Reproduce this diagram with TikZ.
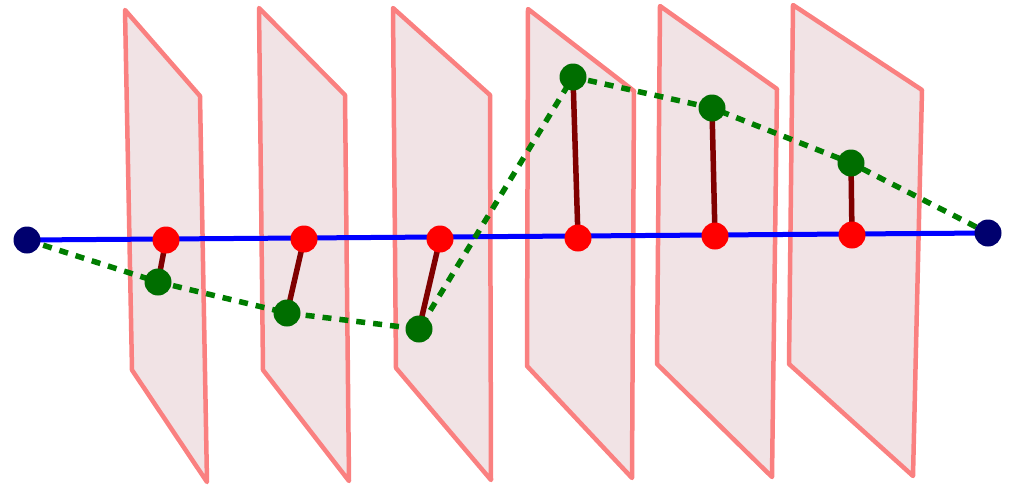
\documentclass[tikz,border=0pt]{standalone}
\begin{document}
\begin{tikzpicture}[x=1pt,y=-1pt,
  plane/.style={draw={rgb,255:red,250;green,128;blue,128},fill={rgb,255:red,241;green,227;blue,229},line width=4.5pt,line join=round},
  dotnode/.style={circle,inner sep=0pt,minimum size=27pt},
  reddot/.style={dotnode,fill={rgb,255:red,255;green,0;blue,0}},
  greendot/.style={dotnode,fill={rgb,255:red,0;green,110;blue,0}},
  enddot/.style={dotnode,fill={rgb,255:red,0;green,0;blue,110}},
  axis/.style={draw={rgb,255:red,0;green,0;blue,255},line width=5pt},
  path/.style={draw={rgb,255:red,0;green,125;blue,0},line width=5.5pt,dash pattern=on 9pt off 8pt},
  link/.style={draw={rgb,255:red,128;green,0;blue,0},line width=5.5pt}]
\useasboundingbox (0,0) rectangle (1013,496);
% planes
\draw[plane] (125,10) -- (200,96) -- (207,482) -- (132,370) -- cycle;
\draw[plane] (259,8) -- (345,95) -- (349,481) -- (263,370) -- cycle;
\draw[plane] (393,8) -- (490,95) -- (491,480) -- (396,368) -- cycle;
\draw[plane] (528,9) -- (634,91) -- (632,478) -- (527,366) -- cycle;
\draw[plane] (660,6) -- (777,89) -- (772,477) -- (657,364) -- cycle;
\draw[plane] (793,5) -- (922,90) -- (913,476) -- (789,364) -- cycle;
% nodes
\coordinate (A) at (27,240);
\coordinate (B) at (988,233);
\coordinate (r1) at (166,240);
\coordinate (r2) at (304,239);
\coordinate (r3) at (440,239);
\coordinate (r4) at (578,238);
\coordinate (r5) at (715,236);
\coordinate (r6) at (852,235);
\coordinate (g1) at (158,282);
\coordinate (g2) at (287,313);
\coordinate (g3) at (419,329);
\coordinate (g4) at (573,77);
\coordinate (g5) at (712,108);
\coordinate (g6) at (851,163);
\draw[axis] (A) -- (B);
\draw[path] (A) -- (g1) -- (g2) -- (g3) -- (g4) -- (g5) -- (g6) -- (B);
\foreach \i in {1,...,6} \draw[link] (r\i) -- (g\i);
\node[enddot] (nA) at (A) {};
\node[enddot] (nB) at (B) {};
\foreach \i in {1,...,6} {
  \node[reddot] (nr\i) at (r\i) {};
  \node[greendot] (ng\i) at (g\i) {};
}
\end{tikzpicture}
\end{document}
